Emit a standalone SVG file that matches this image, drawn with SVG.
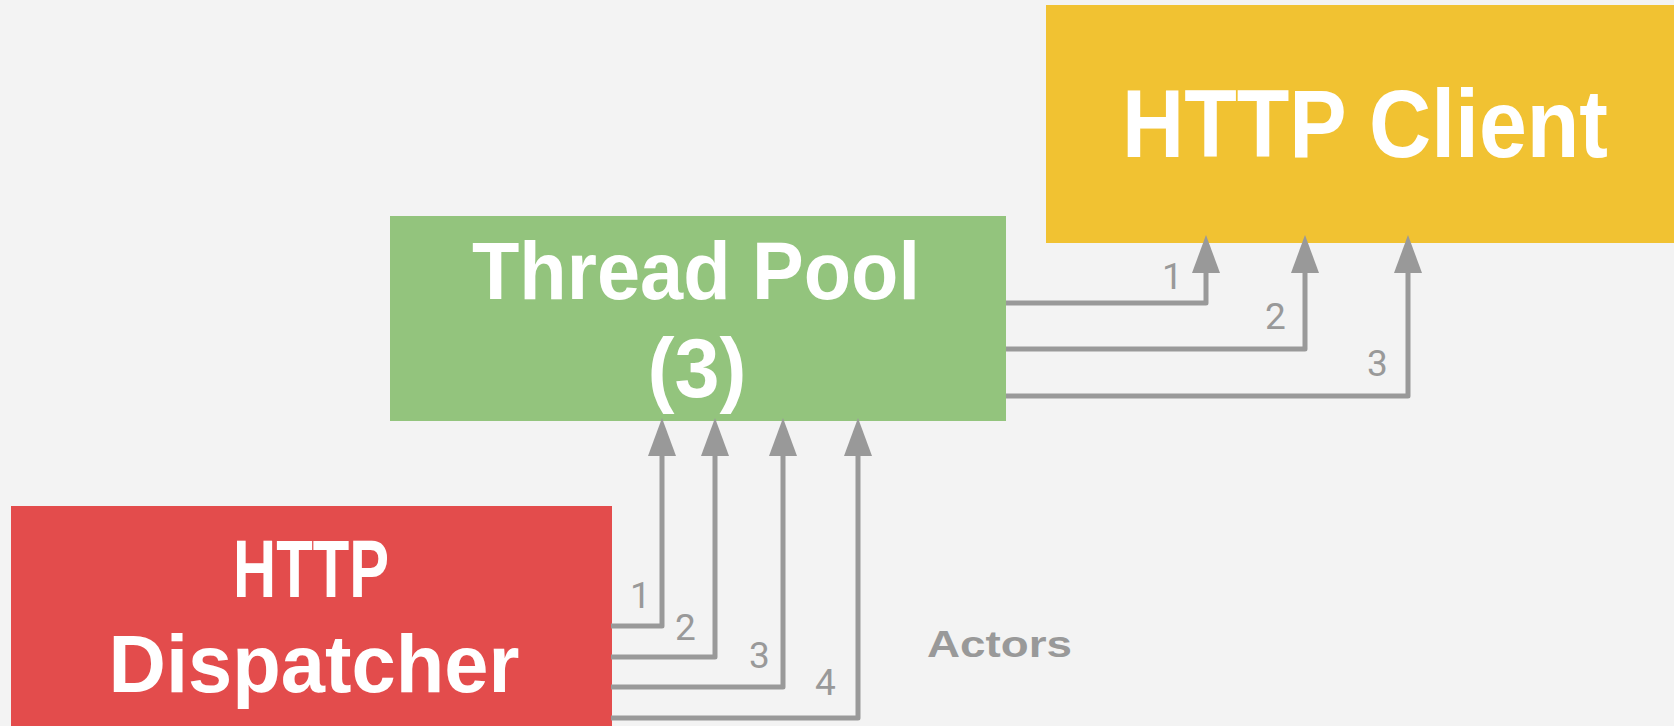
<svg xmlns="http://www.w3.org/2000/svg" width="1674" height="726" viewBox="0 0 1674 726">
  <style>
    .title { font-family: "Liberation Sans", Arial, sans-serif; font-weight: bold; fill: #ffffff; text-anchor: middle; }
    .num { font-family: Roboto, "Liberation Sans", sans-serif; font-size: 37px; font-weight: 400; fill: #999999; }
    .legend { font-family: "Liberation Sans", Arial, sans-serif; font-weight: bold; font-size: 36px; fill: #999999; }
    .wire { fill: none; stroke: #999999; stroke-width: 5; stroke-linejoin: round; marker-end: url(#head); }
  </style>
  <defs>
    <marker id="head" markerUnits="userSpaceOnUse" markerWidth="38" markerHeight="28" viewBox="0 0 38 28" refX="0" refY="14" orient="auto">
      <path d="M0,0 L38,14 L0,28 z" fill="#999999"/>
    </marker>
  </defs>

  <rect x="0" y="0" width="1674" height="726" fill="#f3f3f3"/>

  <g id="http-client">
    <rect x="1046" y="5" width="628" height="238" fill="#f1c232"/>
    <text class="title" x="1365" y="157" font-size="96" textLength="486" lengthAdjust="spacingAndGlyphs">HTTP Client</text>
  </g>

  <g id="thread-pool">
    <rect x="390" y="216" width="616" height="205" fill="#93c47d"/>
    <text class="title" x="696" y="299" font-size="81" textLength="448" lengthAdjust="spacingAndGlyphs">Thread Pool</text>
    <text class="title" x="697" y="397" font-size="83" textLength="99" lengthAdjust="spacingAndGlyphs">(3)</text>
  </g>

  <g id="http-dispatcher">
    <rect x="11" y="506" width="601" height="220" fill="#e34c4c"/>
    <text class="title" x="311" y="597" font-size="81" textLength="156" lengthAdjust="spacingAndGlyphs">HTTP</text>
    <text class="title" x="314" y="692" font-size="81" textLength="411" lengthAdjust="spacingAndGlyphs">Dispatcher</text>
  </g>

  <g id="connectors">
    <!-- thread pool to client -->
    <path class="wire" d="M1006 303 H1206 V273"/>
    <path class="wire" d="M1006 349 H1305 V273"/>
    <path class="wire" d="M1006 396 H1408 V273"/>
    <text class="num" x="1162" y="289">1</text>
    <text class="num" x="1265" y="329">2</text>
    <text class="num" x="1367" y="376">3</text>
    <!-- dispatcher to thread pool -->
    <path class="wire" d="M611 626 H662 V456"/>
    <path class="wire" d="M611 657 H715 V456"/>
    <path class="wire" d="M611 687 H783 V456"/>
    <path class="wire" d="M611 718 H858 V456"/>
    <text class="num" x="630" y="608">1</text>
    <text class="num" x="675" y="640">2</text>
    <text class="num" x="749" y="668">3</text>
    <text class="num" x="815" y="695">4</text>
  </g>

  <text id="actors" class="legend" x="927" y="657" textLength="145" lengthAdjust="spacingAndGlyphs">Actors</text>
</svg>
